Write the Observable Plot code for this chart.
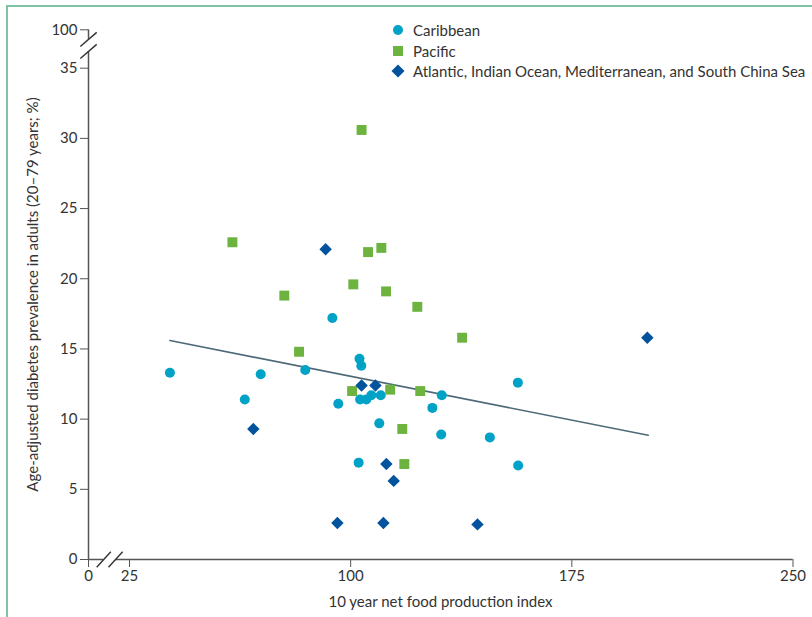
<!DOCTYPE html>
<html>
<head>
<meta charset="utf-8">
<script src="https://cdn.jsdelivr.net/npm/d3@7"></script>
<script src="https://cdn.jsdelivr.net/npm/@observablehq/plot@0.6"></script>
<style>
  body { margin: 0; background: #fff; font-family: Lato, "Open Sans", sans-serif; }
  #wrap { position: relative; width: 812px; height: 617px; overflow: hidden; }
  #frame { position: absolute; left: 6px; top: 5px; width: 820px; height: 620px;
           border-left: 2px solid #7ec3a4; border-top: 2px solid #7ec3a4; pointer-events: none; }
  #chart { position: absolute; left: 0; top: 0; }
  #legend { position: absolute; left: 391px; top: 20px; font-size: 15px; color: #333; }
  #legend .row { display: flex; align-items: center; height: 20.5px; }
  #legend svg { width: 14px; height: 14px; margin-right: 8px; }
</style>
</head>
<body>
<div id="wrap">
  <div id="chart"></div>
  <div id="frame"></div>
  <div id="legend"></div>
</div>
<script>
// ---- data ----
const groups = ["Caribbean", "Pacific", "Atlantic, Indian Ocean, Mediterranean, and South China Sea"];
const groupColors = ["#00a2c6", "#6cb33f", "#00539c"];
const groupSymbols = ["circle", "square", "diamond2"];

const caribbeanX = [38.7, 64.1, 69.5, 84.6, 93.8, 95.8, 102.7, 103.0, 103.6, 103.2, 105.3, 107.0, 110.2, 109.7, 127.7, 130.9, 130.7, 147.2, 156.7, 156.8];
const caribbeanY = [13.3, 11.4, 13.2, 13.5, 17.2, 11.1, 6.9, 14.3, 13.8, 11.4, 11.4, 11.7, 11.7, 9.7, 10.8, 11.7, 8.9, 8.7, 12.6, 6.7];

const pacificX = [59.9, 77.5, 82.5, 100.9, 103.7, 105.9, 110.4, 112.0, 100.5, 113.4, 122.6, 137.8, 123.6, 117.5, 118.2];
const pacificY = [22.6, 18.8, 14.8, 19.6, 30.6, 21.9, 22.2, 19.1, 12.0, 12.1, 18.0, 15.8, 12.0, 9.3, 6.8];

const atlanticX = [91.5, 67.0, 103.7, 108.4, 112.1, 114.6, 95.5, 111.1, 143.0, 200.6];
const atlanticY = [22.1, 9.3, 12.4, 12.4, 6.8, 5.6, 2.6, 2.6, 2.5, 15.8];

const fitX = [38.7, 200.9];
const fitY = [15.6, 8.85];

const xTicks = [0, 25, 100, 175, 250];
const yTicks = [0, 5, 10, 15, 20, 25, 30, 35, 100];
const xLabel = "10 year net food production index";
const yLabel = "Age-adjusted diabetes prevalence in adults (20–79 years; %)";

// axis breaks (data units)
const xBreaks = [9.3, 16.5];
const yBreaks = [63.3, 83.6];

// ---- build ----
const toPts = (xs, ys) => xs.map((x, i) => ({x, y: ys[i]}));
const caribbean = toPts(caribbeanX, caribbeanY);
const pacific = toPts(pacificX, pacificY);
const atlantic = toPts(atlanticX, atlanticY);
const fit = toPts(fitX, fitY);

const axisColor = "#555";
const xSegs = [{x1: 0, x2: xBreaks[0]}, {x1: xBreaks[1], x2: 250}];
const ySegs = [{y1: 0, y2: yBreaks[0]}, {y1: yBreaks[1], y2: 100}];
const xSlash = xBreaks.map(b => ({x1: b - 4.3, y1: -0.55, x2: b + 4.3, y2: 0.55}));
const ySlash = yBreaks.map(b => ({x1: -5, y1: b - 12, x2: 5, y2: b + 12}));

const chart = Plot.plot({
  width: 812,
  height: 617,
  marginLeft: 88,
  marginRight: 20,
  marginTop: 29,
  marginBottom: 58,
  style: {fontFamily: "Lato, 'Open Sans', sans-serif", fontSize: "15px", color: "#333", background: "transparent", overflow: "visible"},
  x: {type: "linear", domain: [0, 25, 250], range: [88, 129, 792.5]},
  y: {type: "linear", domain: [0, 35, 100], range: [559, 67.7, 29.3]},
  marks: [
    Plot.axisX({ticks: xTicks, tickSize: 8, tickPadding: 3, stroke: axisColor, fill: "#333", fontSize: 15, label: null}),
    Plot.axisY({ticks: yTicks, tickSize: 8, tickPadding: 3, stroke: axisColor, fill: "#333", fontSize: 15, label: null}),
    Plot.ruleY(xSegs, {y: 0, x1: "x1", x2: "x2", stroke: axisColor, strokeWidth: 1.5}),
    Plot.ruleX(ySegs, {x: 0, y1: "y1", y2: "y2", stroke: axisColor, strokeWidth: 1.5}),
    Plot.link(xSlash, {x1: "x1", y1: "y1", x2: "x2", y2: "y2", stroke: "#333", strokeWidth: 1.4}),
    Plot.link(ySlash, {x1: "x1", y1: "y1", x2: "x2", y2: "y2", stroke: "#333", strokeWidth: 1.4}),
    Plot.text([xLabel], {frameAnchor: "bottom", dy: 43, fill: "#333", fontSize: 15, textAnchor: "middle", lineAnchor: "middle"}),
    Plot.text([yLabel], {frameAnchor: "left", dx: -55, rotate: -90, fill: "#333", fontSize: 15, textAnchor: "middle", lineAnchor: "middle"}),
    Plot.line(fit, {x: "x", y: "y", stroke: "#4e6a79", strokeWidth: 1.6}),
    Plot.dot(caribbean, {x: "x", y: "y", r: 5, symbol: groupSymbols[0], fill: groupColors[0], stroke: "none"}),
    Plot.dot(pacific, {x: "x", y: "y", r: 5.6, symbol: groupSymbols[1], fill: groupColors[1], stroke: "none"}),
    Plot.dot(atlantic, {x: "x", y: "y", r: 5.6, symbol: groupSymbols[2], fill: groupColors[2], stroke: "none"})
  ]
});
document.getElementById("chart").appendChild(chart);

// ---- legend ----
const shapes = [
  '<circle cx="7" cy="7" r="5"/>',
  '<rect x="2" y="2" width="10" height="10"/>',
  '<path d="M7 0.5 L13.5 7 L7 13.5 L0.5 7 Z"/>'
];
const legend = document.getElementById("legend");
groups.forEach((g, i) => {
  const row = document.createElement("div");
  row.className = "row";
  row.innerHTML = `<svg viewBox="0 0 14 14" fill="${groupColors[i]}">${shapes[i]}</svg><span>${g}</span>`;
  legend.appendChild(row);
});
</script>
</body>
</html>
